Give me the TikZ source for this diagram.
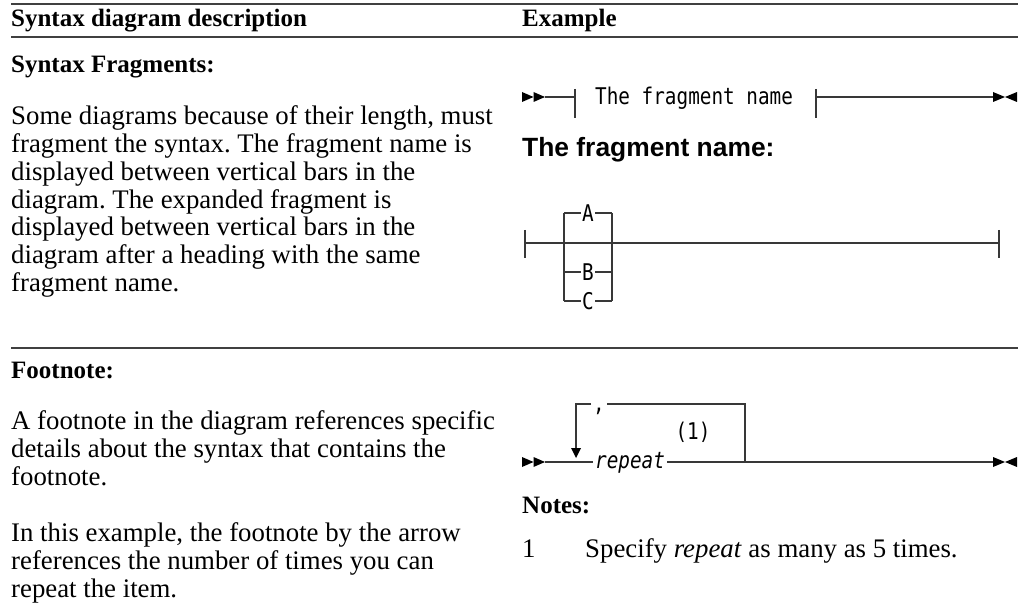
\documentclass[tikz,border=0pt]{standalone}
\usepackage{fontspec}
\setmainfont{Liberation Serif}
\newfontfamily\monofont{DejaVu Sans Mono}[FakeStretch=0.84]
\newfontfamily\headsans{Liberation Sans}
\tikzset{
  body/.style={anchor=base west, inner sep=0, font=\fontsize{26.8}{28}\selectfont\frenchspacing},
  bhead/.style={anchor=base west, inner sep=0, font=\fontsize{25}{28}\selectfont\bfseries},
  mono/.style={inner sep=1.5pt, font=\monofont\fontsize{23}{26}\selectfont},
  rulel/.style={line width=1.4pt, draw=black!75},
  rr/.style={line width=1.5pt, draw=black!78},
  startmark/.pic={\fill[black] (0,-5) -- (11.5,0) -- (0,5) -- cycle;
                  \fill[black] (11.5,-5) -- (23,0) -- (11.5,5) -- cycle;},
  endmark/.pic={\fill[black] (0,-5) -- (12,0) -- (0,5) -- cycle;
                \fill[black] (24,-5) -- (12,0) -- (24,5) -- cycle;}
}
\begin{document}
\begin{tikzpicture}[x=1pt,y=-1pt]
\useasboundingbox (0,0) rectangle (1018,612);
% rules
\coordinate (r1a) at (11,4);   \coordinate (r1b) at (1018,4);
\coordinate (r2a) at (11,37);  \coordinate (r2b) at (1018,37);
\coordinate (r3a) at (11,348); \coordinate (r3b) at (1018,348);
\draw[rulel] (r1a) -- (r1b);
\draw[rulel] (r2a) -- (r2b);
\draw[rulel] (r3a) -- (r3b);
% header
\node[bhead] (h1) at (11,27) {Syntax diagram description};
\node[bhead] (h2) at (522,27) {Example};
% section 1 text
\node[bhead] (s1) at (11,73) {Syntax Fragments:};
\node[body] (l1) at (11,125) {Some diagrams because of their length, must};
\node[body] (l2) at (11,153) {fragment the syntax. The fragment name is};
\node[body] (l3) at (11,181) {displayed between vertical bars in the};
\node[body] (l4) at (11,209) {diagram. The expanded fragment is};
\node[body] (l5) at (11,236) {displayed between vertical bars in the};
\node[body] (l6) at (11,264) {diagram after a heading with the same};
\node[body] (l7) at (11,292) {fragment name.};
% section 2 text
\node[bhead] (s2) at (11,378) {Footnote:};
\node[body] (m1) at (11,429) {A footnote in the diagram references specific};
\node[body] (m2) at (11,457) {details about the syntax that contains the};
\node[body] (m3) at (11,485) {footnote.};
\node[body] (m4) at (11,541) {In this example, the footnote by the arrow};
\node[body] (m5) at (11,569) {references the number of times you can};
\node[body] (m6) at (11,597) {repeat the item.};
% ---------- fragment reference diagram
\pic at (522,97) {startmark};
\coordinate (fa) at (545,97);
\coordinate (fb) at (575,97);
\coordinate (fbt) at (575,89); \coordinate (fbb) at (575,118);
\draw[rr] (fa) -- (fb);
\draw[rr] (fbt) -- (fbb);
\node[mono, anchor=base west, inner sep=0] (fname) at (595,105) {The fragment name};
\coordinate (fct) at (816,89); \coordinate (fcb) at (816,118);
\coordinate (fc) at (816,97); \coordinate (fd) at (993,97);
\draw[rr] (fct) -- (fcb);
\draw[rr] (fc) -- (fd);
\pic at (fd) {endmark};
% heading
\node[anchor=base west, inner sep=0, font=\headsans\bfseries\fontsize{26.4}{30}\selectfont] (fh) at (522,157) {The fragment name:};
% ---------- expanded fragment
\coordinate (ga) at (525,243); \coordinate (gat) at (525,230); \coordinate (gab) at (525,258);
\coordinate (gb) at (999,243); \coordinate (gbt) at (999,230); \coordinate (gbb) at (999,258);
\draw[rr] (gat) -- (gab);
\draw[rr] (gbt) -- (gbb);
\draw[rr] (ga) -- (gb);
\coordinate (bxl) at (564,213); \coordinate (bxr) at (612,213);
\coordinate (bxlb) at (564,301); \coordinate (bxrb) at (612,301);
\draw[rr] (bxl) -- (bxlb);
\draw[rr] (bxr) -- (bxrb);
\node[mono, inner sep=1pt] (A) at (588,213) {A};
\node[mono, inner sep=1pt] (B) at (588,272) {B};
\node[mono, inner sep=1pt] (C) at (588,301) {C};
\draw[rr] (bxl) -- (A.west);  \draw[rr] (A.east) -- (bxr);
\draw[rr] (564,272) -- (B.west); \draw[rr] (B.east) -- (612,272);
\draw[rr] (bxlb) -- (C.west); \draw[rr] (C.east) -- (bxrb);
% ---------- repeat diagram
\pic at (522,462) {startmark};
\coordinate (ra) at (545,462);
\node[anchor=base west, inner sep=0, font=\monofont\itshape\fontsize{23}{26}\selectfont] (rep) at (595,468) {repeat};
\coordinate (rpl) at (593,462);
\coordinate (rpr) at (667,462);
\coordinate (rz) at (993,462);
\draw[rr] (ra) -- (rpl);
\draw[rr] (rpr) -- (rz);
\pic at (rz) {endmark};
\coordinate (lpt) at (576,404);
\coordinate (lpa) at (576,448);
\coordinate (lrt) at (745,404);
\coordinate (lrb) at (745,462);
\node[mono, anchor=base, inner sep=0] (comma) at (599,411) {,};
\coordinate (cg1) at (591,404);
\coordinate (cg2) at (607,404);
\draw[rr] (lrb) -- (lrt) -- (cg2);
\draw[rr] (cg1) -- (lpt) -- (lpa);
\fill[black] (571,448) -- (581,448) -- (576,458) -- cycle;
\node[mono] (fn) at (693,432) {(1)};
% notes
\node[bhead] (notes) at (522,513) {Notes:};
\node[body] (n1) at (522,557) {1};
\node[body] (n1t) at (585,557) {Specify \textit{repeat} as many as 5 times.};
\end{tikzpicture}
\end{document}
